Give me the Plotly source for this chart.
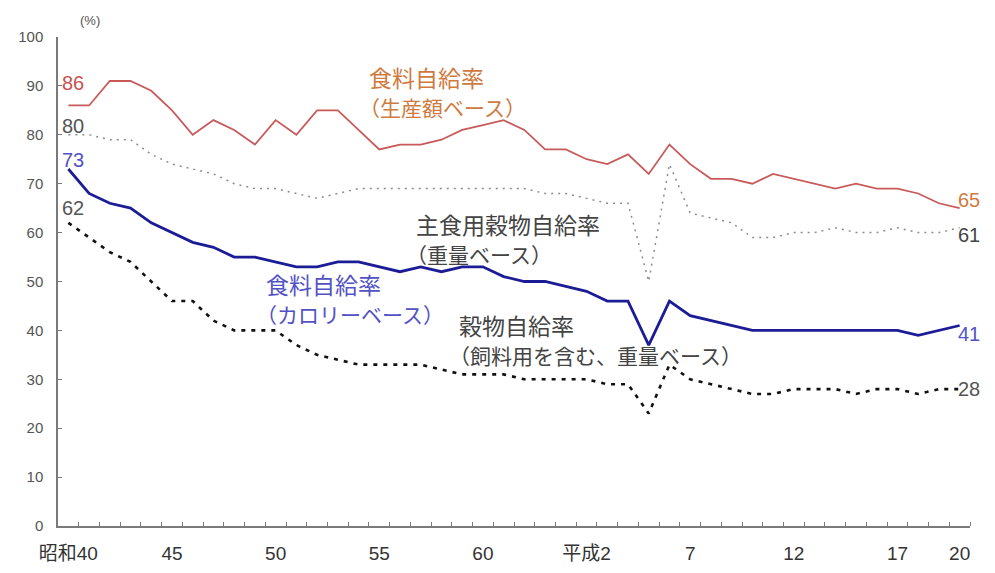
import plotly.graph_objects as go

# Years: 昭和40 (1965) .. 平成20 (2008)
years = list(range(1965, 2009))
x_idx = list(range(len(years)))

tick_pos = [0, 5, 10, 15, 20, 25, 30, 35, 40, 43]
tick_text = ["昭和40", "45", "50", "55", "60", "平成2", "7", "12", "17", "20"]

# 食料自給率（生産額ベース）
production_value = [86, 86, 91, 91, 89, 85, 80, 83, 81, 78, 83, 80, 85, 85, 81,
                    77, 78, 78, 79, 81, 82, 83, 81, 77, 77, 75, 74, 76, 72, 78,
                    74, 71, 71, 70, 72, 71, 70, 69, 70, 69, 69, 68, 66, 65]
# 主食用穀物自給率（重量ベース）
staple_grain = [80, 80, 79, 79, 76, 74, 73, 72, 70, 69, 69, 68, 67, 68, 69,
                69, 69, 69, 69, 69, 69, 69, 69, 68, 68, 67, 66, 66, 50, 74,
                64, 63, 62, 59, 59, 60, 60, 61, 60, 60, 61, 60, 60, 61]
# 食料自給率（カロリーベース）
calorie = [73, 68, 66, 65, 62, 60, 58, 57, 55, 55, 54, 53, 53, 54, 54,
           53, 52, 53, 52, 53, 53, 51, 50, 50, 49, 48, 46, 46, 37, 46,
           43, 42, 41, 40, 40, 40, 40, 40, 40, 40, 40, 39, 40, 41]
# 穀物自給率（飼料用を含む、重量ベース）
grain_total = [62, 59, 56, 54, 50, 46, 46, 42, 40, 40, 40, 37, 35, 34, 33,
               33, 33, 33, 32, 31, 31, 31, 30, 30, 30, 30, 29, 29, 23, 33,
               30, 29, 28, 27, 27, 28, 28, 28, 27, 28, 28, 27, 28, 28]

JP = "Noto Sans CJK JP"
NUM = "Liberation Sans, Arial, Noto Sans CJK JP"

RED = "#C85A5A"
RED_TXT = "#CF7A3E"
BLUE = "#1C1C96"
BLUE_TXT = "#5252C4"
GRAY = "#8C8C8C"
DARK = "#444444"

fig = go.Figure()
fig.add_trace(go.Scatter(x=x_idx, y=production_value, mode="lines",
                         line=dict(color=RED, width=1.8), hoverinfo="skip"))
fig.add_trace(go.Scatter(x=x_idx, y=staple_grain, mode="lines",
                         line=dict(color=GRAY, width=1.5, dash="2px,5px"), hoverinfo="skip"))
fig.add_trace(go.Scatter(x=x_idx, y=calorie, mode="lines",
                         line=dict(color=BLUE, width=2.8), hoverinfo="skip"))
fig.add_trace(go.Scatter(x=x_idx, y=grain_total, mode="lines",
                         line=dict(color="#111111", width=2.6, dash="4px,6px"), hoverinfo="skip"))

annotations = []
# start / end value labels
start_labels = [(production_value, "#C85050", 22), (staple_grain, "#555555", 9),
                (calorie, BLUE_TXT, 9), (grain_total, "#555555", 15)]
for series, col, ys in start_labels:
    annotations.append(dict(x=x_idx[0], y=series[0], text=str(series[0]), showarrow=False,
                            xref="x", yref="y", xanchor="left", yanchor="middle",
                            xshift=-8, yshift=ys, font=dict(family=NUM, size=20, color=col)))
end_labels = [(production_value, RED_TXT, 8), (staple_grain, "#444444", -7),
              (calorie, BLUE_TXT, -8), (grain_total, "#555555", 0)]
for series, col, ys in end_labels:
    annotations.append(dict(x=x_idx[-1], y=series[-1], text=str(series[-1]), showarrow=False,
                            xref="x", yref="y", xanchor="left", yanchor="middle",
                            xshift=-4, yshift=ys, font=dict(family=NUM, size=20, color=col)))

# series name labels (text, x index, y value, font size, color)
name_labels = [
    ("食料自給率", 14.46, 91.8, 23, RED_TXT),
    ("（生産額ベース）", 13.98, 85.7, 21, RED_TXT),
    ("主食用穀物自給率", 16.72, 61.7, 23, DARK),
    ("（重量ベース）", 16.24, 55.6, 21, DARK),
    ("食料自給率", 9.49, 49.5, 23, BLUE_TXT),
    ("（カロリーベース）", 9.01, 43.3, 21, BLUE_TXT),
    ("穀物自給率", 18.80, 41.1, 23, DARK),
    ("（飼料用を含む、重量ベース）", 18.32, 34.9, 21, DARK),
]
for txt, xv, yv, fs, col in name_labels:
    annotations.append(dict(x=xv, y=yv, text=txt, showarrow=False, xref="x", yref="y",
                            xanchor="left", yanchor="middle", borderpad=0,
                            font=dict(family=JP, size=fs, color=col)))

# "(%)" unit label just above the y axis
annotations.append(dict(x=32 / 912, y=1 + 17 / 489, xref="paper", yref="paper", text="(%)",
                        showarrow=False, xanchor="center", yanchor="middle",
                        font=dict(family=NUM, size=13, color="#555555")))

# page body has an 8px margin: size the figure so the plot area lands where the reference has it
fig.update_layout(
    width=987, height=565,
    margin=dict(l=50, r=25, t=29, b=47),
    paper_bgcolor="white", plot_bgcolor="white",
    showlegend=False,
    annotations=annotations,
    xaxis=dict(range=[-0.5, 43.5], tickmode="array", tickvals=tick_pos, ticktext=tick_text,
               ticks="", showgrid=False, zeroline=False, showline=True, automargin=False,
               linecolor="#7A7A7A", linewidth=1.5,
               tickfont=dict(family=NUM, size=19, color="#333333"),
               ticklabelstandoff=9,
               minor=dict(tickmode="array", tickvals=[i - 0.5 for i in x_idx[1:]] + [43.5],
                          ticks="inside", ticklen=4, tickwidth=1, tickcolor="#7A7A7A")),
    yaxis=dict(range=[0, 100], tickmode="array", tickvals=list(range(0, 101, 10)),
               ticks="inside", ticklen=4, tickcolor="#7A7A7A", tickwidth=1,
               showgrid=False, zeroline=False, showline=True, automargin=False,
               linecolor="#7A7A7A", linewidth=1.5,
               tickfont=dict(family=NUM, size=15, color="#555555"),
               ticklabelstandoff=10),
)

fig.write_html("out.html")
